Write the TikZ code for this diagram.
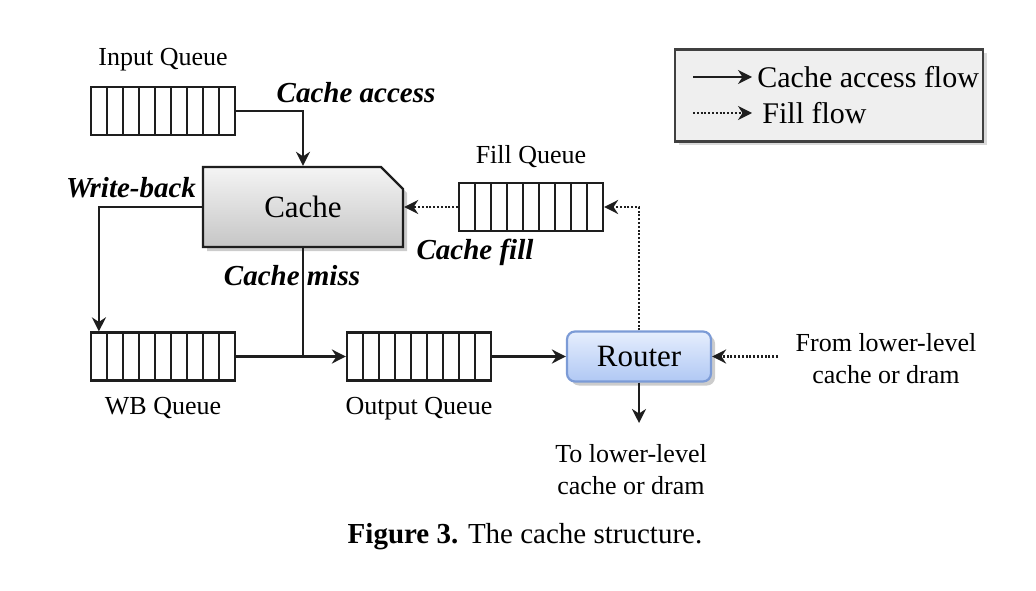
\documentclass[tikz,border=0pt]{standalone}
\usepackage{fontspec}
\setmainfont{Liberation Serif}
\usepackage{xcolor}
\usepackage{tikz}
\usetikzlibrary{arrows.meta,positioning,shapes.misc,shadows,calc}
\definecolor{CacheTop}{HTML}{F4F4F4}
\definecolor{CacheBot}{HTML}{C6C6C6}
\definecolor{RouterTop}{HTML}{E6EEFD}
\definecolor{RouterBot}{HTML}{B0C8F4}
\definecolor{RouterEdge}{HTML}{7C9BD6}
\definecolor{LegendFill}{HTML}{EFEFEF}
\definecolor{LineDark}{HTML}{1E1E1E}
\tikzset{
  queue/.style={draw=LineDark,line width=1.1pt,fill=white,minimum width=72pt,
    minimum height=24pt,inner sep=0pt,
    path picture={\foreach \k in {1,...,8}
      \draw[line width=1.1pt,LineDark]
        ($(path picture bounding box.south west)!\k/9!(path picture bounding box.south east)$) --
        ($(path picture bounding box.north west)!\k/9!(path picture bounding box.north east)$);}},
  cachebox/.style={chamfered rectangle,chamfered rectangle corners=north east,
    chamfered rectangle sep=5.5pt,draw=LineDark,line width=1.2pt,
    top color=CacheTop,bottom color=CacheBot,minimum width=100pt,minimum height=40pt,
    font=\fontsize{15.5}{18}\selectfont,
    drop shadow={shadow xshift=2pt,shadow yshift=-2pt,opacity=0.4}},
  routerbox/.style={draw=RouterEdge,line width=1.1pt,rounded corners=4pt,
    top color=RouterTop,bottom color=RouterBot,minimum width=72pt,minimum height=25pt,
    font=\fontsize{15.5}{18}\selectfont,
    drop shadow={shadow xshift=2pt,shadow yshift=-2pt,opacity=0.4}},
  legendbox/.style={draw=LineDark!85,line width=1.2pt,fill=LegendFill,
    minimum width=154pt,minimum height=46pt,
    drop shadow={shadow xshift=2pt,shadow yshift=-2pt,opacity=0.3}},
  qlabel/.style={inner sep=0pt,align=center,font=\fontsize{13}{16}\selectfont},
  legtext/.style={inner sep=0pt,font=\fontsize{15}{18}\selectfont},
  flowlabel/.style={inner sep=0pt,font=\fontsize{14.5}{17}\selectfont\bfseries\itshape},
  captext/.style={inner sep=0pt,font=\fontsize{14.5}{17}\selectfont},
  wire/.style={line width=1.2pt,draw=LineDark},
  flow/.style={-{Stealth[length=7pt,width=7pt]},line width=1.2pt,draw=LineDark},
  fillflow/.style={-{Stealth[length=7pt,width=7pt]},line width=1.2pt,draw=LineDark,
    dash pattern=on 1pt off 0.9pt}
}
\begin{document}
\begin{tikzpicture}[x=0.5pt,y=0.5pt]
  \useasboundingbox (0,0) rectangle (1036,590);
  % legend
  \node[legendbox] (legend) at (829,494.5) {};
  \node[legtext,anchor=west] (legacc) at (757,513) {Cache access flow};
  \node[legtext,anchor=west] (legfill) at (762,477) {Fill flow};
  \draw[flow] ([xshift=-32pt]legacc.west) -- ([xshift=-2.5pt]legacc.west);
  \draw[fillflow] ([xshift=-34.5pt]legfill.west) -- ([xshift=-5pt]legfill.west);
  % queues
  \node[queue] (inq) at (163,479) {};
  \node[queue] (fillq) at (531,383) {};
  \node[queue] (wbq) at (163,233.5) {};
  \node[queue] (outq) at (419,233.5) {};
  \node[qlabel,above=7pt of inq] (inqlab) {Input Queue};
  \node[qlabel,above=7pt of fillq] (fillqlab) {Fill Queue};
  \node[qlabel,below=7.5pt of wbq] (wbqlab) {WB Queue};
  \node[qlabel,below=7.5pt of outq] (outqlab) {Output Queue};
  % cache and router
  \node[cachebox] (cache) at (303,383) {Cache};
  \node[routerbox] (router) at (639,233.5) {Router};
  \coordinate (join) at (cache.south |- wbq.east);
  \coordinate (tolow) at (639,167);
  \coordinate (fromstart) at (778,233.5);
  \node[qlabel] (tolowlab) at (631,120) {To lower-level\\cache or dram};
  \node[qlabel] (fromlowlab) at (886,231) {From lower-level\\cache or dram};
  % flow labels
  \node[flowlabel] (acclab) at (356,497) {Cache access};
  \node[flowlabel] (wblab) at (131,402) {Write-back};
  \node[flowlabel] (misslab) at (292,314) {Cache miss};
  \node[flowlabel] (filllab) at (475,338) {Cache fill};
  % connectors
  \draw[flow] (inq.east) -| (cache.north);
  \draw[flow] (cache.west) -| ([xshift=4.5pt]wbq.north west);
  \draw[wire] (cache.south) -- (join);
  \draw[flow] (wbq.east) -- (outq.west);
  \draw[flow] (outq.east) -- (router.west);
  \draw[flow] (router.south) -- (tolow);
  \draw[fillflow] (fromstart) -- (router.east);
  \draw[fillflow] (router.north) |- (fillq.east);
  \draw[fillflow] (fillq.west) -- (cache.east);
  % caption
  \node[captext] (caption) at (525,53) {\textbf{Figure 3.} The cache structure.};
\end{tikzpicture}
\end{document}
